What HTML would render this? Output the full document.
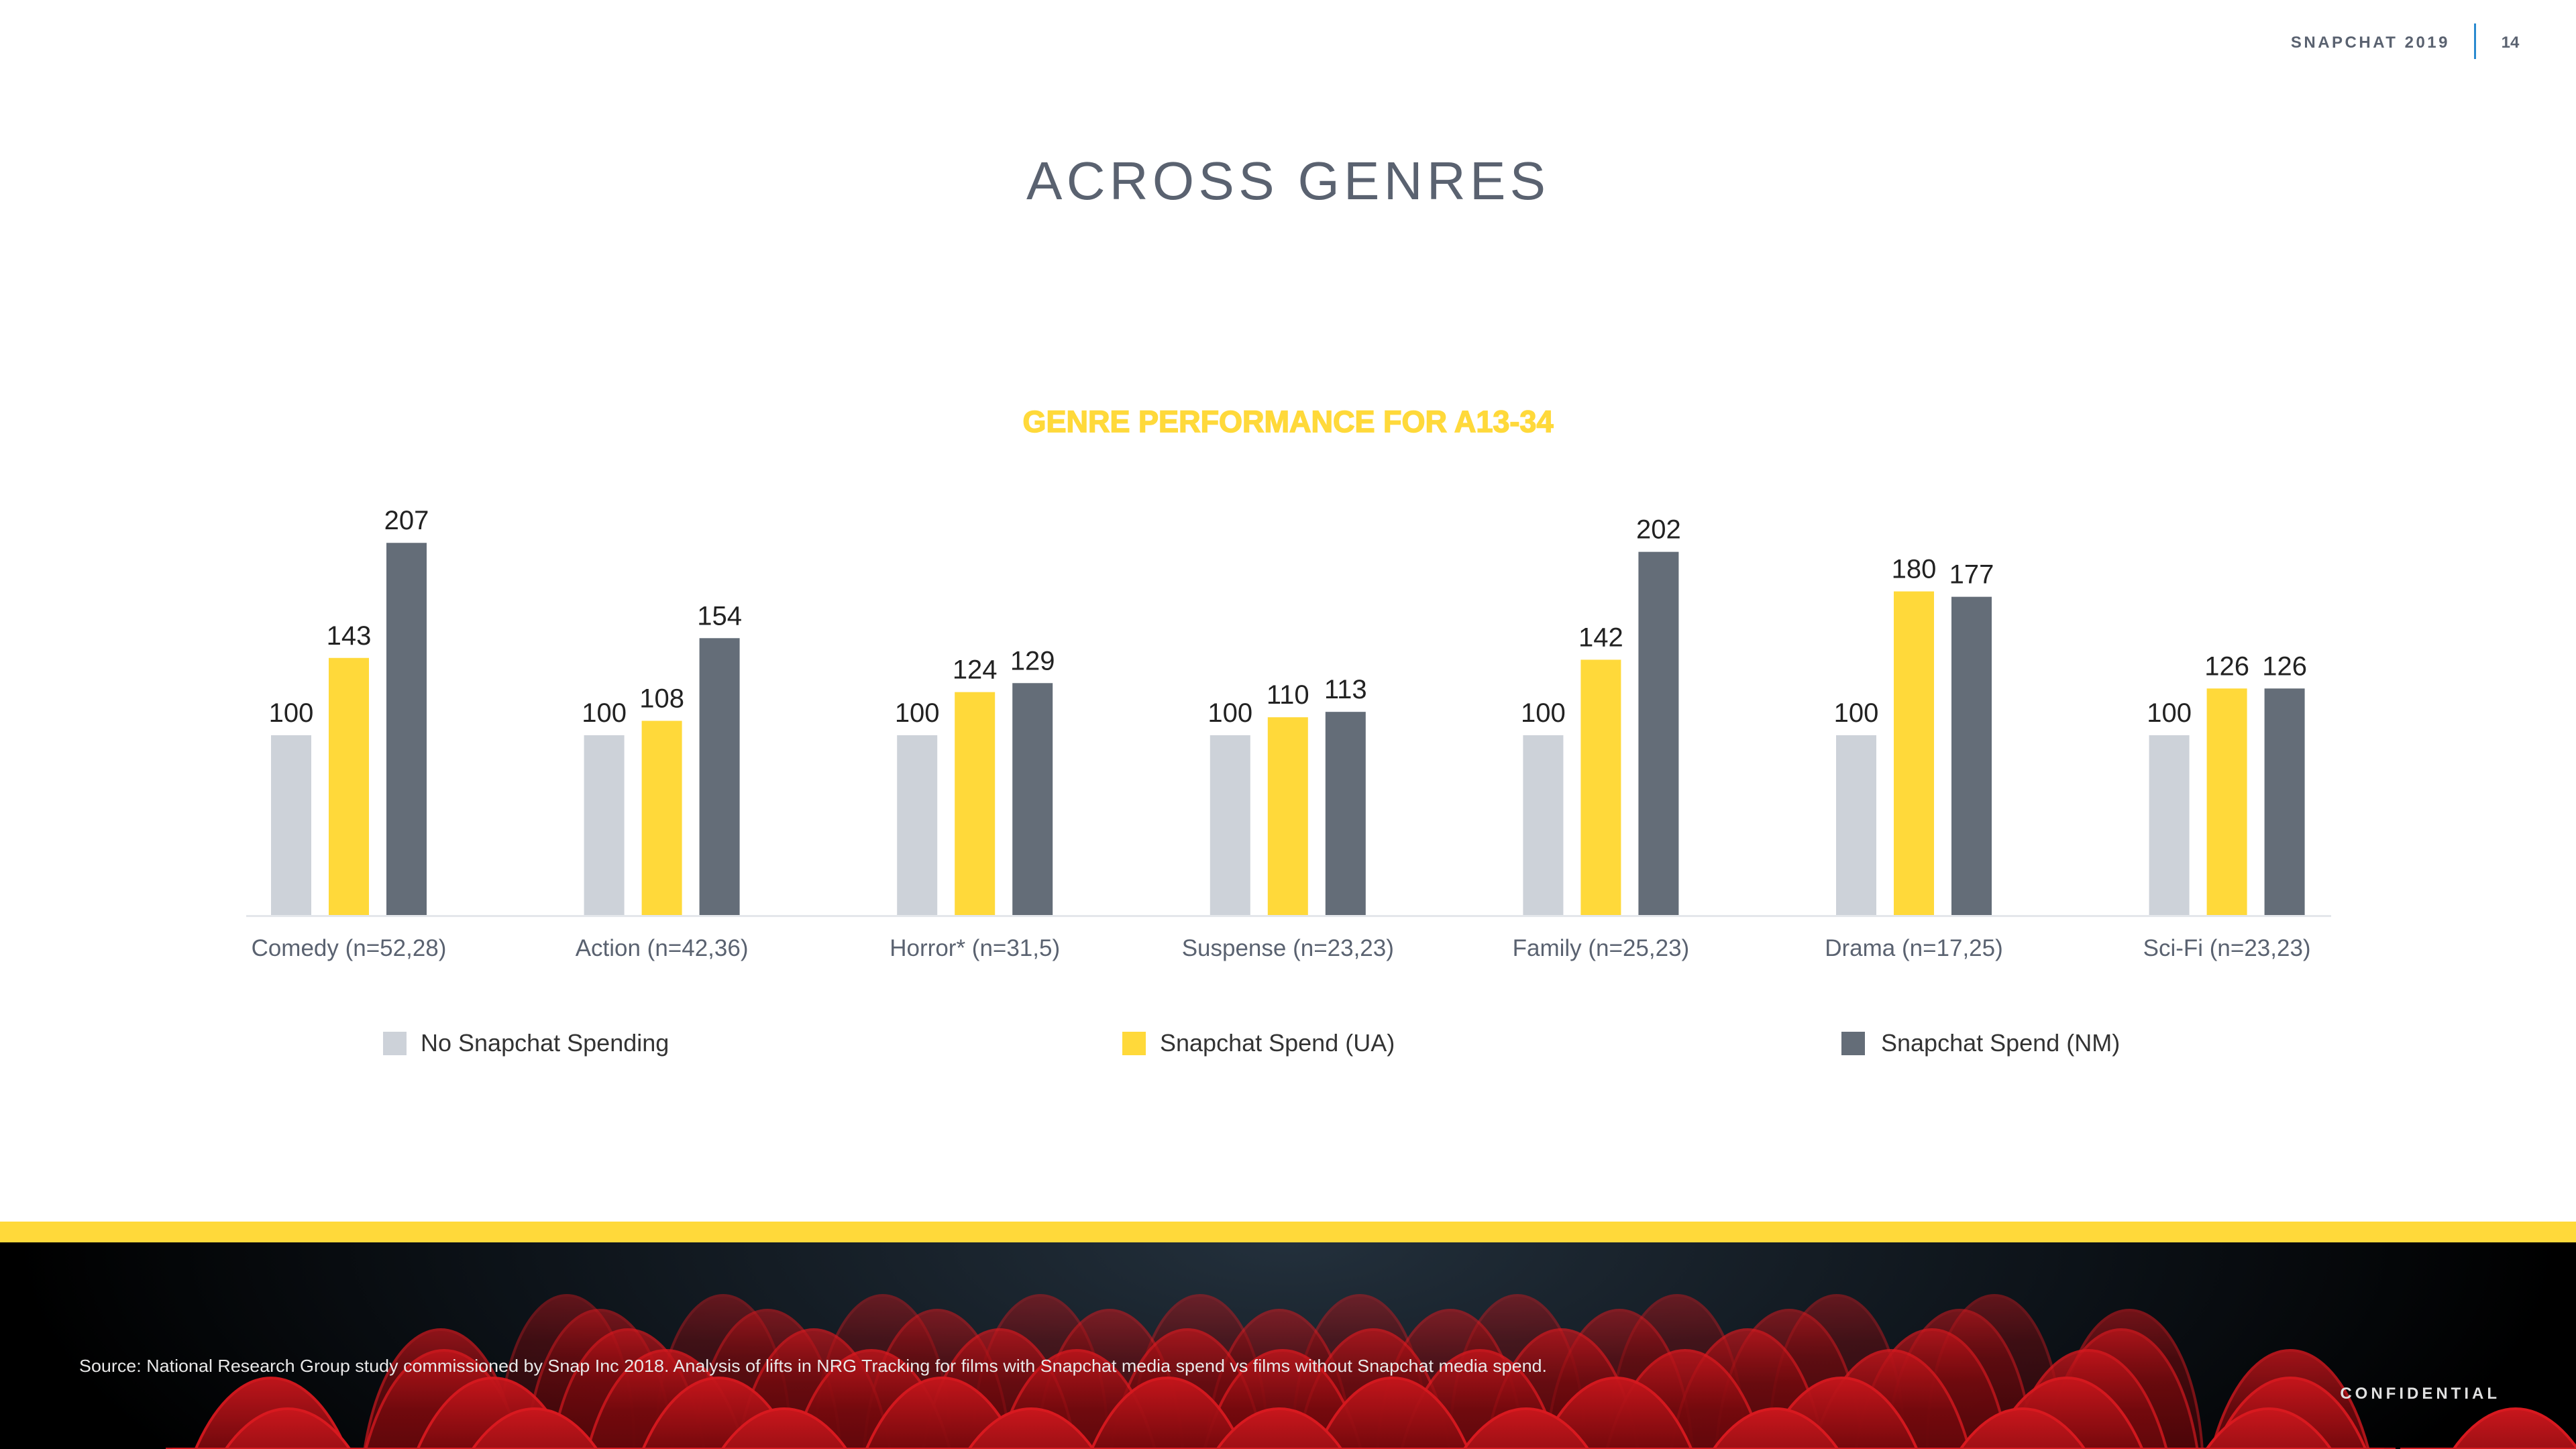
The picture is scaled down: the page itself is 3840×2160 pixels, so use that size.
<!DOCTYPE html>
<html><head><meta charset="utf-8"><style>
html,body{margin:0;padding:0;width:3840px;height:2160px;overflow:hidden;background:#fff}
svg{display:block}
</style></head><body>
<svg id="s" width="3840" height="2160" viewBox="0 0 3840 2160" xmlns="http://www.w3.org/2000/svg" font-family="Liberation Sans, sans-serif">
<defs>
<radialGradient id="bg" cx="1920" cy="1852" r="1900" gradientUnits="userSpaceOnUse" gradientTransform="translate(0,1852) scale(1,0.35) translate(0,-1852)">
<stop offset="0" stop-color="#23303c"/><stop offset="0.6" stop-color="#0d1319"/><stop offset="1" stop-color="#000"/></radialGradient>
<linearGradient id="seat" x1="0" y1="0" x2="0" y2="1"><stop offset="0" stop-color="#c8161c"/><stop offset="0.3" stop-color="#7a0a0e"/><stop offset="1" stop-color="#3a0305"/></linearGradient>
<clipPath id="cp"><rect x="0" y="1852" width="3840" height="308"/></clipPath>
</defs>
<rect x="0" y="0" width="3840" height="2160" fill="#fff"/>
<text x="3652" y="71" text-anchor="end" font-size="24" font-weight="bold" fill="#5a6270" letter-spacing="3.5">SNAPCHAT 2019</text>
<rect x="3688" y="35" width="3" height="53" fill="#2a8ad0"/>
<text x="3742" y="71" text-anchor="middle" font-size="24" font-weight="bold" fill="#5a6270">14</text>
<text x="1922" y="297" text-anchor="middle" font-size="80" fill="#5a6270" letter-spacing="10" textLength="784" lengthAdjust="spacing">ACROSS GENRES</text>
<text x="1920" y="644" text-anchor="middle" font-size="45" font-weight="bold" fill="#FFD93A" stroke="#FFD93A" stroke-width="1.5">GENRE PERFORMANCE FOR A13-34</text>
<rect x="367" y="1364" width="3108" height="3" fill="#e4e7eb"/>
<g id="bars"></g>
<rect x="571" y="1538" width="35" height="35" fill="#cdd2d9"/>
<text x="627" y="1567" font-size="36" fill="#333">No Snapchat Spending</text>
<rect x="1673" y="1538" width="35" height="35" fill="#FFD93A"/>
<text x="1729" y="1567" font-size="36" fill="#333">Snapchat Spend (UA)</text>
<rect x="2745" y="1538" width="35" height="35" fill="#646d78"/>
<text x="2804" y="1567" font-size="36" fill="#333">Snapchat Spend (NM)</text>
<rect x="0" y="1821" width="3840" height="31" fill="#FFD93A"/>
<rect x="0" y="1852" width="3840" height="308" fill="url(#bg)"/>
<g id="seats" clip-path="url(#cp)"></g>
<text x="118" y="2045" font-size="26" fill="#e8e8e8" textLength="2188" lengthAdjust="spacingAndGlyphs">Source: National Research Group study commissioned by Snap Inc 2018. Analysis of lifts in NRG Tracking for films with Snapchat media spend vs films without Snapchat media spend.</text>
<text x="3727" y="2085" text-anchor="end" font-size="24" font-weight="bold" fill="#e0e0e0" letter-spacing="5">CONFIDENTIAL</text>
</svg>
<script>
var NS="http://www.w3.org/2000/svg";
function el(p,t,a,txt){var e=document.createElementNS(NS,t);for(var k in a)e.setAttribute(k,a[k]);if(txt!=null)e.textContent=txt;p.appendChild(e);return e;}
var bars=document.getElementById('bars');
var data=[[100,143,207],[100,108,154],[100,124,129],[100,110,113],[100,142,202],[100,180,177],[100,126,126]];
var labs=["Comedy (n=52,28)","Action (n=42,36)","Horror* (n=31,5)","Suspense (n=23,23)","Family (n=25,23)","Drama (n=17,25)","Sci-Fi (n=23,23)"];
var cols=["#cdd2d9","#FFD93A","#646d78"];
for(var i=0;i<7;i++){var gx=404+i*466.6;
 for(var j=0;j<3;j++){var x=gx+j*86,h=data[i][j]*2.68,y=1364-h;
  el(bars,'rect',{x:x,y:y,width:60,height:h,fill:cols[j]});
  el(bars,'text',{x:x+30,y:y-20,'text-anchor':'middle','font-size':40,fill:'#222'},String(data[i][j]));}
 el(bars,'text',{x:gx+116,y:1425,'text-anchor':'middle','font-size':35,fill:'#5a6270'},labs[i]);}
var seats=document.getElementById('seats');
var rows=[[1931,200,[845,1078,1316,1551,1789,2027,2262,2500,2738,2973],0.45],
[1953,220,[894,1144,1397,1654,1907,2162,2414,2667,2921,3174],0.55],
[1982,240,[657,936,1213,1490,1770,2047,2328,2605,2880,3162],0.7],
[2013,270,[662,993,1299,1605,1912,2206,2512,2819,3113,3414],0.8],
[2054,310,[404,735,1071,1404,1740,2076,2409,2745,3081,3414],0.95],
[2100,340,[429,797,1169,1537,1907,2275,2647,3015,3382,3750],1]];
rows.forEach(function(r){var top=r[0],w=r[1],ry=w*1.1;
 r[2].forEach(function(cx){var l=cx-w/2,rr=cx+w/2;
  el(seats,'path',{d:'M'+l+',2160 L'+l+','+(top+ry)+' A'+(w/2)+','+ry+' 0 0 1 '+rr+','+(top+ry)+' L'+rr+',2160 Z',fill:'url(#seat)',stroke:'#d8191f','stroke-width':4,opacity:r[3]});});});
</script>
</body></html>
